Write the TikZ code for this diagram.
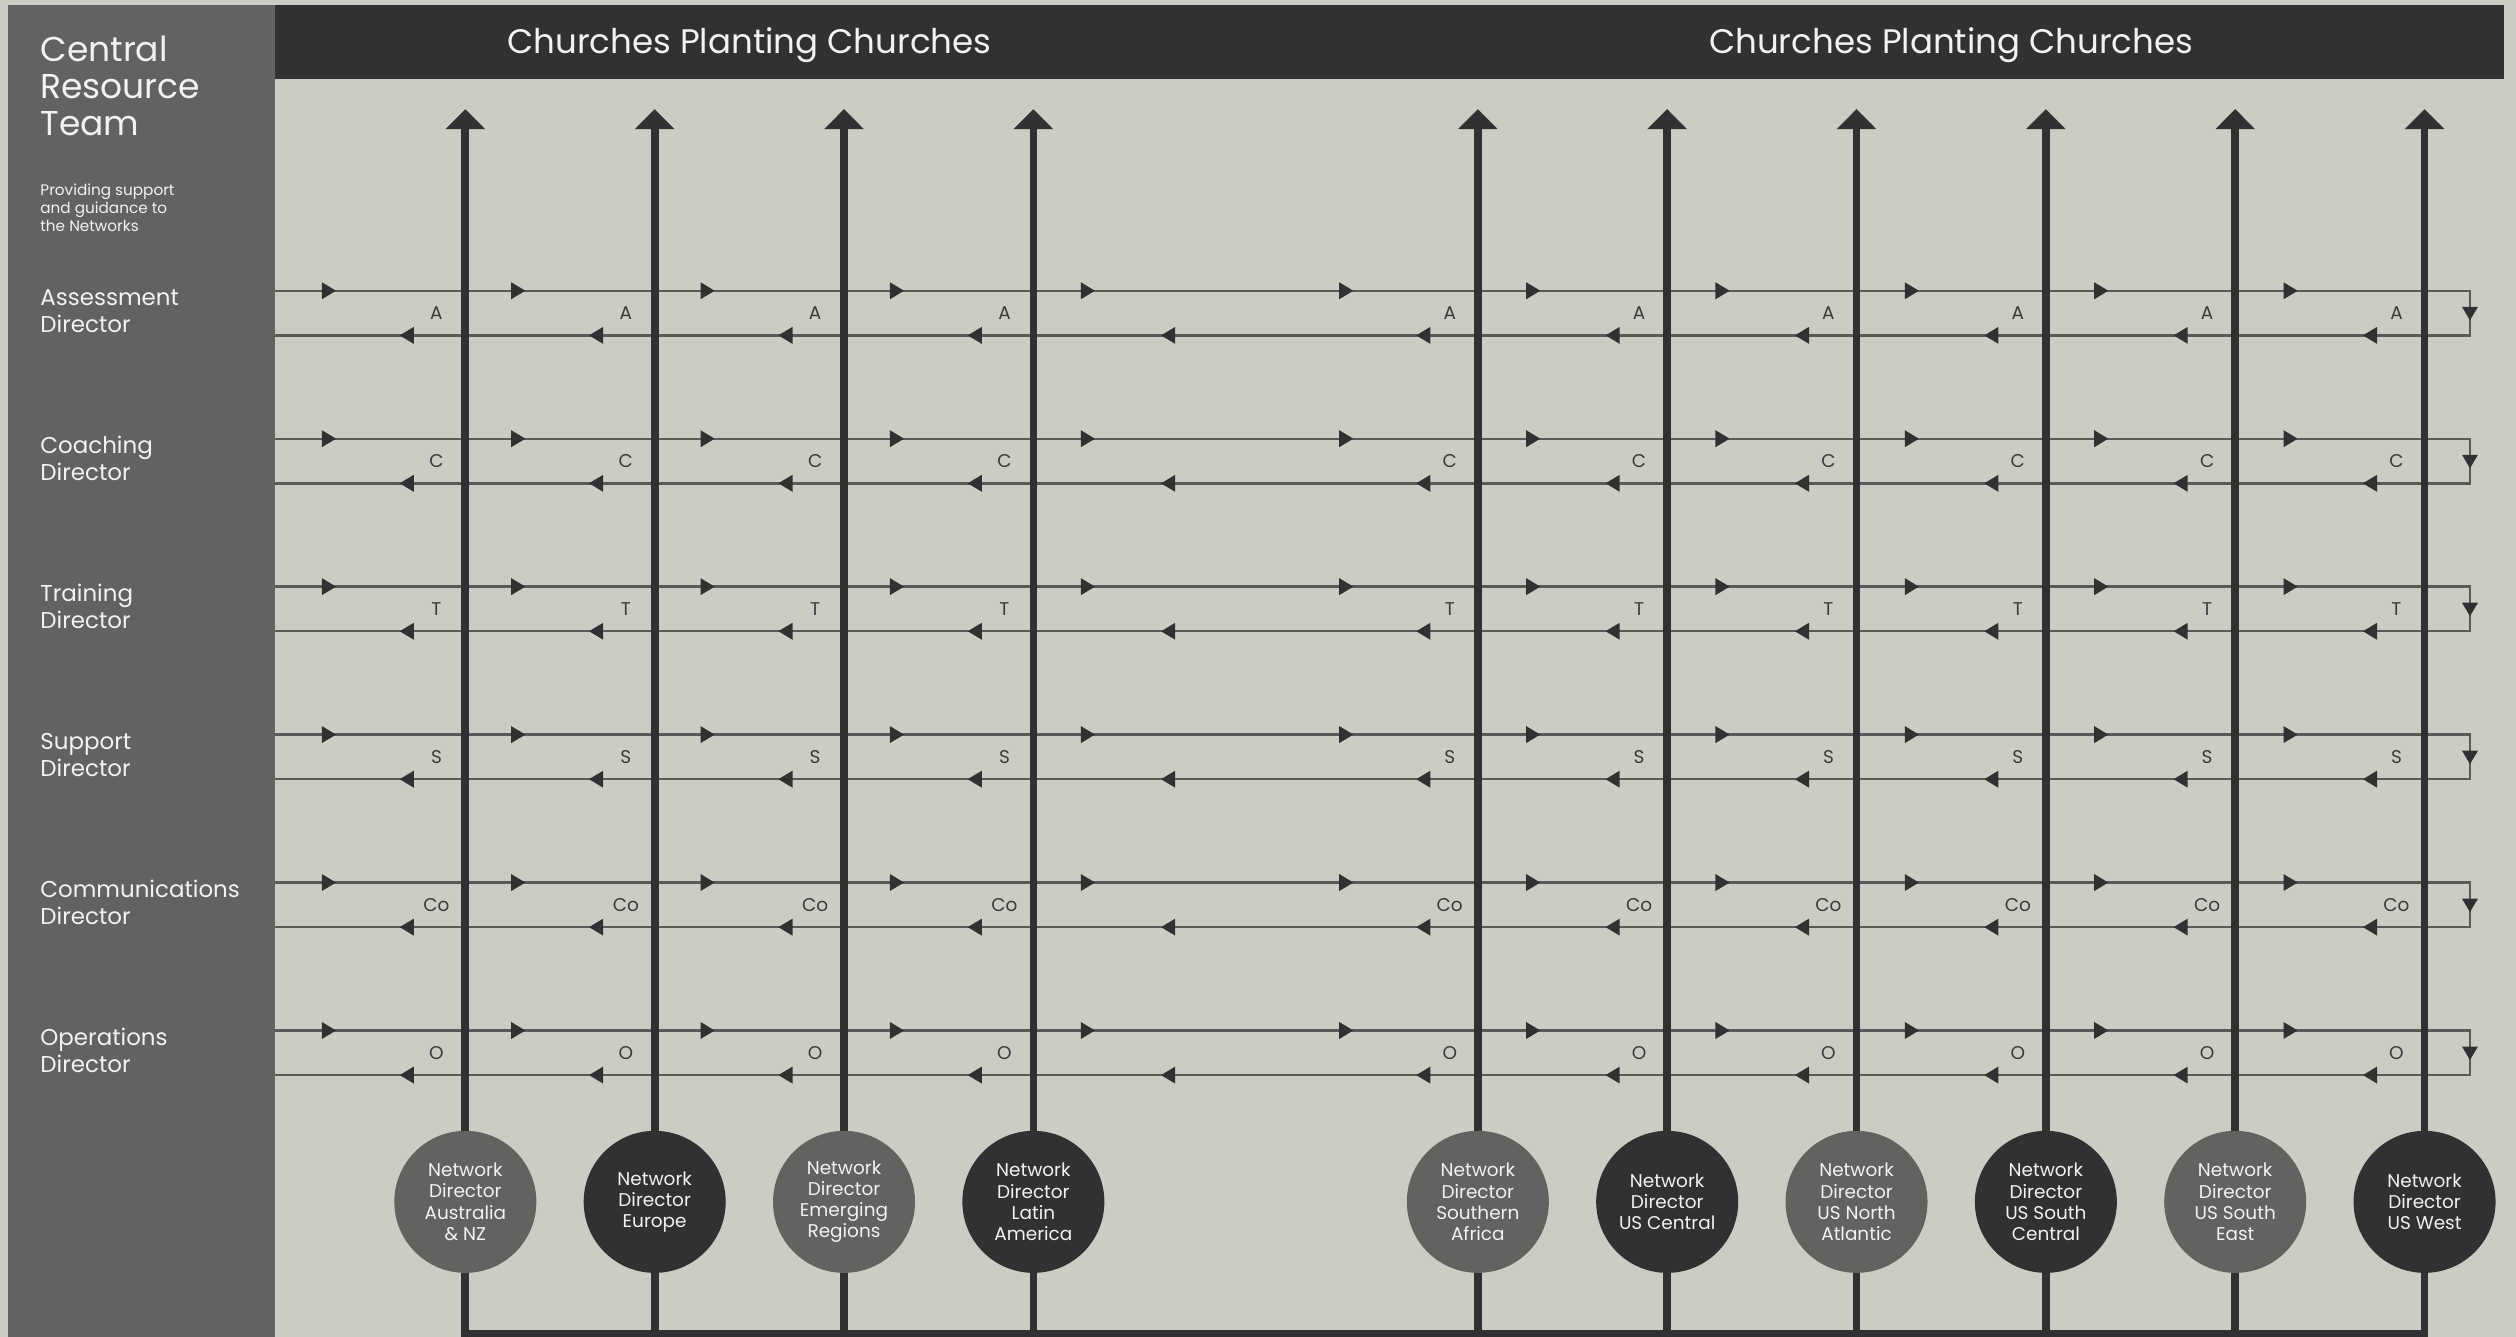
\documentclass[tikz,border=0pt]{standalone}
\usepackage{fontspec}
\setmainfont{Poppins}
\usetikzlibrary{arrows.meta}
\definecolor{bg}{HTML}{CCCCC4}
\definecolor{panel}{HTML}{616360}
\definecolor{dark}{HTML}{323033}
\definecolor{hline}{HTML}{5A5B58}
\definecolor{txt}{HTML}{F2F2F0}
\definecolor{lbl}{HTML}{3A3A3C}
\begin{document}
\begin{tikzpicture}[x=1pt,y=-1pt,
  titletext/.style={text=txt,font=\fontsize{21.2}{26}\selectfont,inner sep=0pt,anchor=base},
  bigtext/.style={text=txt,font=\fontsize{21.5}{23}\selectfont,align=left,inner sep=0pt,anchor=base west},
  smalltext/.style={text=txt,font=\fontsize{9.5}{11.4}\selectfont,align=left,inner sep=0pt,anchor=base west},
  dirtext/.style={text=txt,font=\fontsize{14.3}{16.6}\selectfont,align=left,inner sep=0pt,anchor=base west},
  netnode/.style={circle,minimum size=88.5pt,inner sep=0pt,text=txt,align=center,font=\fontsize{11.5}{13.2}\selectfont},
  lettertext/.style={text=lbl,font=\fontsize{11.5}{13}\selectfont,inner sep=0pt},
  vline/.style={draw=dark,line width=4.8pt},
  hpair/.style={draw=hline,line width=1.5pt},
  rtri/.pic={\fill[dark] (4.4,0) -- (-4.4,-5.3) -- (-4.4,5.3) -- cycle;},
  ltri/.pic={\fill[dark] (-4.4,0) -- (4.4,-5.3) -- (4.4,5.3) -- cycle;},
  dtri/.pic={\fill[dark] (0,4.2) -- (-5,-4.2) -- (5,-4.2) -- cycle;}
]
\useasboundingbox (0,0) rectangle (1568,833);
\fill[bg] (0,0) rectangle (1568,833);
\fill[panel] (5,3) rectangle (171.4,840);
\fill[dark] (171.4,3) rectangle (1560.5,49.2);
% titles
\node[titletext] (title1) at (467,33.3) {Churches Planting Churches};
\node[titletext] (title2) at (1216,33.3) {Churches Planting Churches};
% panel texts
\node[bigtext] (crt) at (25,84.3) {Central\\Resource\\Team};
\node[smalltext] (prov) at (25,144.4) {Providing support\\and guidance to\\the Networks};
% rows
\foreach \rr/\lab/\ltr [count=\i] in {181.2/{Assessment\\Director}/A,273.4/{Coaching\\Director}/C,365.6/{Training\\Director}/T,457.8/{Support\\Director}/S,550.0/{Communications\\Director}/Co,642.2/{Operations\\Director}/O}{
  \node[dirtext] (dir\i) at (25,\rr+26) {\lab};
  \coordinate (lt\i) at (171.4,\rr);
  \coordinate (rt\i) at (1539.3,\rr);
  \coordinate (rb\i) at (1539.3,\rr+27.8);
  \coordinate (lb\i) at (171.4,\rr+27.8);
  \draw[hpair] (lt\i) -- (rt\i) -- (rb\i) -- (lb\i);
  \pic at (1539.3,\rr+14.2) {dtri};
  \foreach \x in {205,323,441,559,678,839,955.5,1073.5,1191.5,1309.5,1427.5}{
    \pic at (\x,\rr) {rtri};
  }
  \foreach \x in {253.5,371.5,489.5,607.5,728,887,1005,1123,1241,1359,1477}{
    \pic at (\x,\rr+27.8) {ltri};
  }
  \foreach \x in {272,390,508,626,903.5,1021.5,1139.5,1257.5,1375.5,1493.5}{
    \node[lettertext] at (\x,\rr+14) {\ltr};
  }
}
% network directors
\foreach \x/\nm/\fc [count=\k] in {290/{Network\\Director\\Australia\\\& NZ}/panel,408/{Network\\Director\\Europe}/dark,526/{Network\\Director\\Emerging\\Regions}/panel,644/{Network\\Director\\Latin\\America}/dark,921/{Network\\Director\\Southern\\Africa}/panel,1039/{Network\\Director\\US Central}/dark,1157/{Network\\Director\\US North\\Atlantic}/panel,1275/{Network\\Director\\US South\\Central}/dark,1393/{Network\\Director\\US South\\East}/panel,1511/{Network\\Director\\US West}/dark}{
  \node[netnode,fill=\fc] (n\k) at (\x,749) {\nm};
  \coordinate (top\k) at (\x,68);
  \coordinate (bot\k) at (\x,831);
  \draw[vline,-{Triangle[width=24pt,length=12.5pt]}] (n\k.north) -- (top\k);
}
\draw[vline] (n1.south) -- (bot1) -- (bot10) -- (n10.south);
\foreach \k in {2,...,9}{
  \draw[vline] (n\k.south) -- (bot\k);
}
\end{tikzpicture}
\end{document}
